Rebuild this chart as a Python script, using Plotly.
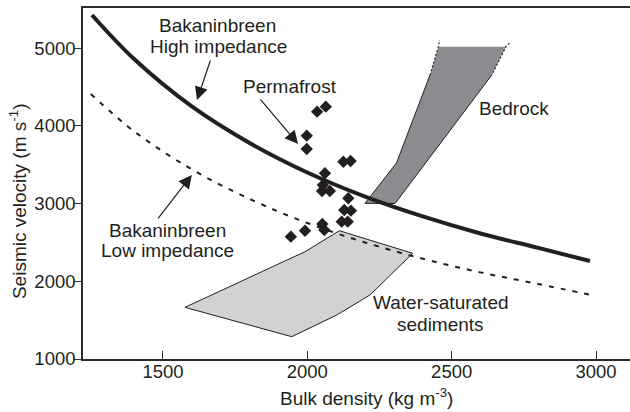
import plotly.graph_objects as go

# ---- data ----
high_density = [1254, 1400, 1600, 1800, 2000, 2200, 2400, 2600, 2800, 2979]
high_velocity = [5427, 4860, 4250, 3780, 3400, 3090, 2835, 2615, 2430, 2261]

low_density = [1250, 1400, 1600, 1800, 2000, 2200, 2400, 2600, 2800, 3000]
low_velocity = [4410, 3930, 3440, 3060, 2750, 2500, 2290, 2115, 1965, 1811]

perma_density = [2034, 2064, 1998, 1998, 2125, 2150, 2061, 2054, 2051, 2078,
                 2142, 2128, 2151, 2119, 2140, 2052, 2059, 1992, 1943]
perma_velocity = [4183, 4247, 3874, 3703, 3539, 3548, 3390, 3239, 3162, 3162,
                  3068, 2918, 2909, 2767, 2767, 2737, 2660, 2651, 2574]

bedrock_density = [2200, 2309, 2425, 2454, 2688, 2639, 2304]
bedrock_velocity = [3004, 3523, 4655, 5019, 5019, 4655, 3001]
bedrock_ext_left_density = [2454, 2458]
bedrock_ext_left_velocity = [5019, 5105]
bedrock_ext_right_density = [2688, 2700]
bedrock_ext_right_velocity = [5019, 5063]

sed_density = [2111, 2365, 2217, 2102, 1946, 1576, 1992]
sed_velocity = [2651, 2360, 1824, 1566, 1287, 1665, 2381]

x_ticks = [1500, 2000, 2500, 3000]
y_ticks = [1000, 2000, 3000, 4000, 5000]

INK = "#231f20"
FONT = "Liberation Sans, Arial, sans-serif"

fig = go.Figure()

# water-saturated sediments polygon
fig.add_trace(go.Scatter(
    x=sed_density + sed_density[:1], y=sed_velocity + sed_velocity[:1],
    fill="toself", fillcolor="#d1d2d4", mode="lines",
    line=dict(color=INK, width=1), hoverinfo="skip"))

# bedrock polygon (fill only)
fig.add_trace(go.Scatter(
    x=bedrock_density + bedrock_density[:1], y=bedrock_velocity + bedrock_velocity[:1],
    fill="toself", fillcolor="#8b8c8f", mode="lines",
    line=dict(color="rgba(0,0,0,0)", width=0), hoverinfo="skip"))
# bedrock solid edges (lower part)
fig.add_trace(go.Scatter(
    x=bedrock_density[2::-1], y=bedrock_velocity[2::-1],
    mode="lines", line=dict(color=INK, width=1), hoverinfo="skip"))
fig.add_trace(go.Scatter(
    x=bedrock_density[5:7], y=bedrock_velocity[5:7],
    mode="lines", line=dict(color=INK, width=1), hoverinfo="skip"))
fig.add_trace(go.Scatter(
    x=[bedrock_density[0], bedrock_density[6]], y=[bedrock_velocity[0], bedrock_velocity[6]],
    mode="lines", line=dict(color=INK, width=1), hoverinfo="skip"))
# bedrock dotted edges (upper part)
fig.add_trace(go.Scatter(
    x=bedrock_density[2:4] + bedrock_ext_left_density[1:],
    y=bedrock_velocity[2:4] + bedrock_ext_left_velocity[1:],
    mode="lines", line=dict(color=INK, width=1.2, dash="2px,2px"), hoverinfo="skip"))
fig.add_trace(go.Scatter(
    x=bedrock_ext_right_density[::-1] + bedrock_density[5:6],
    y=bedrock_ext_right_velocity[::-1] + bedrock_velocity[5:6],
    mode="lines", line=dict(color=INK, width=1.2, dash="2px,2px"), hoverinfo="skip"))

# low impedance (dashed)
fig.add_trace(go.Scatter(
    x=low_density, y=low_velocity, mode="lines",
    line=dict(color=INK, width=2, dash="5px,7px", shape="spline"), hoverinfo="skip"))
# high impedance (solid thick)
fig.add_trace(go.Scatter(
    x=high_density, y=high_velocity, mode="lines",
    line=dict(color=INK, width=4, shape="spline"), hoverinfo="skip"))

# permafrost samples
fig.add_trace(go.Scatter(
    x=perma_density, y=perma_velocity, mode="markers",
    marker=dict(symbol="diamond", size=9.5, color=INK, line=dict(width=0)),
    hoverinfo="skip"))

ann = []
def label(text, x, y, size=19):
    ann.append(dict(x=x, y=y, xref="x", yref="y", text=text, showarrow=False,
                    xanchor="center", yanchor="middle",
                    font=dict(family=FONT, size=size, color=INK)))

def arrow(x0, y0, x1, y1):
    ann.append(dict(x=x1, y=y1, ax=x0, ay=y0, xref="x", yref="y", axref="x", ayref="y",
                    text="", showarrow=True, arrowhead=2, arrowsize=2.2,
                    arrowwidth=1.2, arrowcolor=INK, standoff=0, startstandoff=0))

label("Bakaninbreen", 1690, 5286)
label("High impedance", 1693, 5022)
label("Permafrost", 1940, 4507)
label("Bedrock", 2717, 4226)
label("Bakaninbreen", 1517, 2660)
label("Low impedance", 1517, 2390)
label("Water-saturated", 2463, 1721)
label("sediments", 2462, 1450)

arrow(1666, 4861, 1618, 4333)
arrow(1833, 4359, 1968, 3767)
arrow(1479, 2789, 1600, 3368)

W = 634
L = 83
ann.append(dict(x=(18 - L) / (W - L), y=0.450, xref="paper", yref="paper",
                text="Seismic velocity (m s<sup>-1</sup>)", textangle=-90,
                showarrow=False, xanchor="center", yanchor="middle",
                font=dict(family=FONT, size=19, color=INK)))
ann.append(dict(x=(366 - L) / (W - L), y=-0.108, xref="paper", yref="paper",
                text="Bulk density (kg m<sup>-3</sup>)",
                showarrow=False, xanchor="center", yanchor="middle",
                font=dict(family=FONT, size=19, color=INK)))

fig.update_layout(
    width=W, height=412,
    margin=dict(l=L, r=0, t=8, b=53, autoexpand=False),
    paper_bgcolor="white", plot_bgcolor="white",
    showlegend=False,
    annotations=ann,
    font=dict(family=FONT, size=18.5, color=INK),
    xaxis=dict(range=[1223, 1223 + (W - L) / 0.2887], tickvals=x_ticks,
               ticks="inside", ticklen=8, ticklabelstandoff=-5,
               tickwidth=1.3, tickcolor="#333", showline=True, linecolor="#2a2a2a",
               linewidth=1.6, mirror=True, showgrid=False, zeroline=False,
               automargin=False,
               tickfont=dict(family=FONT, size=18.5, color=INK)),
    yaxis=dict(range=[1000, 5517], tickvals=y_ticks, ticks="outside", ticklen=7,
               ticklabelstandoff=-5,
               tickwidth=1.3, tickcolor="#333", showline=True, linecolor="#2a2a2a",
               linewidth=1.6, showgrid=False, zeroline=False,
               automargin=False,
               tickfont=dict(family=FONT, size=18.5, color=INK)),
)

fig.write_html("out.html", config={"displayModeBar": False},
               post_script="document.body.style.margin='0';document.body.style.overflow='hidden';")
